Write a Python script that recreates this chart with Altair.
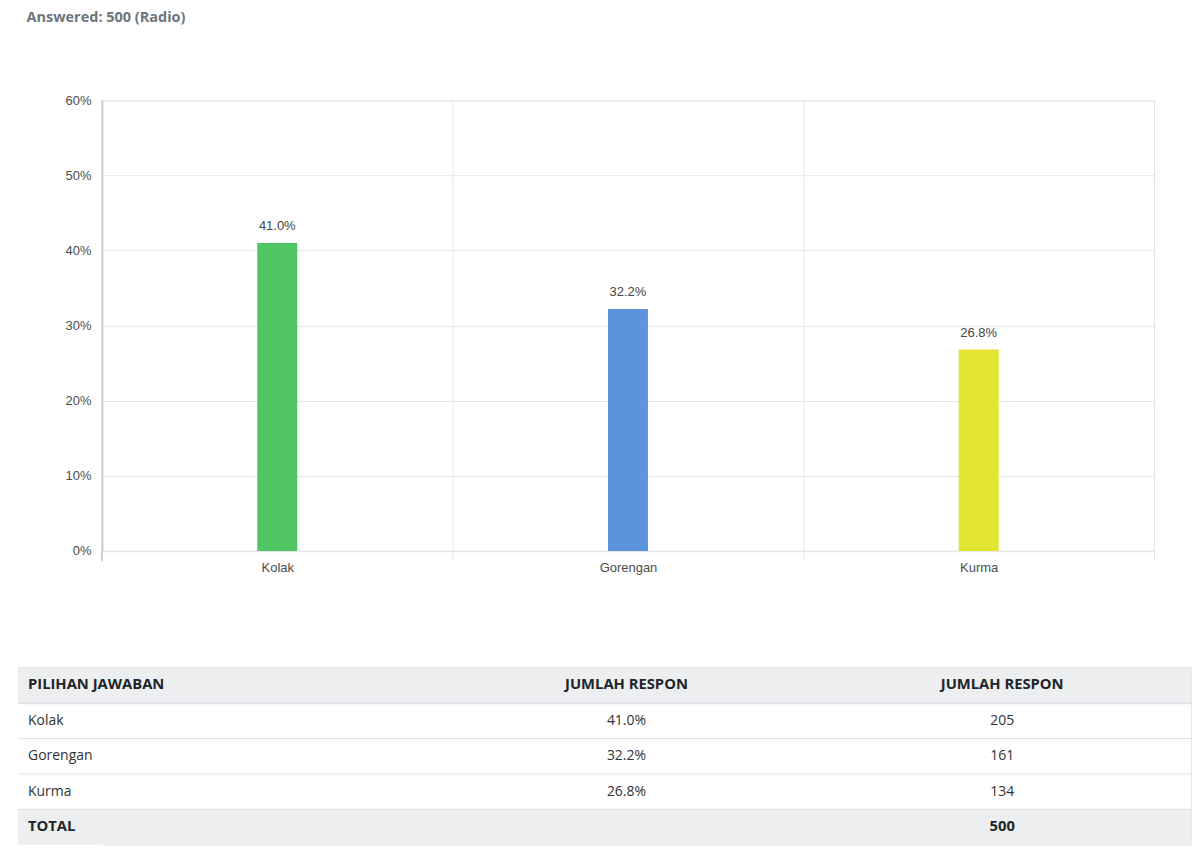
import altair as alt
import pandas as pd

# ---- data ----
categories = ["Kolak", "Gorengan", "Kurma"]
percents = [41.0, 32.2, 26.8]
counts = [205, 161, 134]
bar_colors = ["#4fc563", "#5b94db", "#e1e531"]
total = 500

header = ["PILIHAN JAWABAN", "JUMLAH RESPON", "JUMLAH RESPON"]
total_label = "TOTAL"

# ---- bar chart ----
bars_df = pd.DataFrame({
    "cat": categories,
    "pct": percents,
    "label": [f"{p:.1f}%" for p in percents],
})

xenc = alt.X(
    "cat:N",
    sort=categories,
    scale=alt.Scale(paddingInner=0, paddingOuter=0),
    axis=alt.Axis(
        title=None, labelAngle=0, tickBand="extent", grid=True,
        gridColor="#e6e6e6", tickColor="#e6e6e6", tickSize=10,
        domainColor="#e6e6e6", domainWidth=1.5, labelPadding=1,
        labelFont="Liberation Sans", labelFontSize=13, labelColor="#4d4d4d",
    ),
)
yenc = alt.Y(
    "pct:Q",
    scale=alt.Scale(domain=[0, 60], nice=False),
    axis=alt.Axis(
        title=None, values=[0, 10, 20, 30, 40, 50, 60],
        labelExpr="datum.value + '%'", ticks=False,
        gridColor="#e6e6e6", domainColor="#cccccc", domainWidth=2,
        labelPadding=11, labelFont="Liberation Sans", labelFontSize=13,
        labelColor="#4d4d4d",
    ),
)

bar = alt.Chart(bars_df).mark_bar(size=40, opacity=1).encode(
    x=xenc,
    y=yenc,
    color=alt.Color("cat:N", scale=alt.Scale(domain=categories, range=bar_colors), legend=None),
)
bar_text = alt.Chart(bars_df).mark_text(
    dy=-17, baseline="middle", font="Liberation Sans", fontSize=13, color="#444444"
).encode(x=alt.X("cat:N", sort=categories), y="pct:Q", text="label:N")

# y-axis line continues a little below zero, as in the reference
y_ext = alt.Chart(bars_df.head(1)).mark_rule(color="#cccccc", strokeWidth=2).encode(
    x=alt.value(0), y=alt.value(451), y2=alt.value(461)
)

bar_chart = alt.layer(bar, bar_text, y_ext).properties(width=1053, height=451)

# ---- table ----
col1 = [header[0]] + categories + [total_label]
col2 = [header[1]] + [f"{p:.1f}%" for p in percents] + [""]
col3 = [header[2]] + [str(c) for c in counts] + [str(total)]
kinds = ["head", "body", "body", "body", "total"]

tab_df = pd.DataFrame({
    "row": list(range(len(col1))),
    "c1": col1, "c2": col2, "c3": col3, "kind": kinds,
})

yq = alt.Scale(domain=[0, 5], reverse=True, nice=False, zero=False)

tbase = alt.Chart(tab_df).transform_calculate(
    rmid="datum.row + 0.5", rend="datum.row + 1",
)

t_rect = tbase.mark_rect().encode(
    x=alt.value(-84), x2=alt.value(1090),
    y=alt.Y("row:Q", scale=yq, axis=None),
    y2="rend:Q",
    fill=alt.Color("kind:N", scale=alt.Scale(domain=["head", "body", "total"],
                                             range=["#eceeef", "#ffffff", "#eceeef"]), legend=None),
)
t_rule = tbase.mark_rule(color="#dee2e6").encode(
    x=alt.value(-84), x2=alt.value(1090),
    y=alt.Y("row:Q", scale=yq, axis=None),
    strokeWidth=alt.condition("datum.row == 1", alt.value(2), alt.value(1)),
)


def tcol(field, xpos, align, bold):
    flt = "datum.kind != 'body'" if bold else "datum.kind == 'body'"
    return tbase.transform_filter(flt).mark_text(
        align=align, baseline="middle", font="Open Sans",
        fontSize=14.8 if bold else 14,
        fontWeight="bold" if bold else "normal",
        color="#212529" if bold else "#333333",
    ).encode(
        x=alt.value(xpos),
        y=alt.Y("rmid:Q", scale=yq, axis=None),
        text=f"{field}:N",
    )


layers = [t_rect, t_rule]
for f, xp, al in [("c1", -74, "left"), ("c2", 525, "center"), ("c3", 901, "center")]:
    layers.append(tcol(f, xp, al, True))
    layers.append(tcol(f, xp, al, False))

table_chart = alt.layer(*layers).properties(width=1090, height=177)

chart = alt.vconcat(bar_chart, table_chart, spacing=91).properties(
    title=alt.TitleParams(
        "Answered: 500 (Radio)", anchor="start", font="Open Sans", fontSize=14.5,
        fontWeight="bold", color="#6c757d", offset=68, dx=10,
    ),
    padding={"left": 8, "top": 2, "right": 0, "bottom": 0},
).configure_view(stroke="#e6e6e6")

chart.save("out.html", embed_options={"renderer": "svg", "actions": False})
